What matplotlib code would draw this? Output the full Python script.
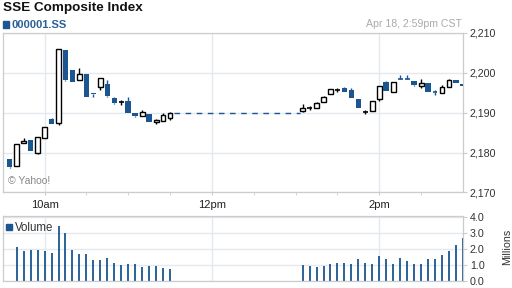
import numpy as np
import matplotlib
matplotlib.use('Agg')
import matplotlib.pyplot as plt
from matplotlib.patches import Rectangle

plt.rcParams['font.family'] = ['Liberation Sans', 'DejaVu Sans']

# minutes after 9:30
am_times = np.arange(5, 121, 5)       # 9:35 .. 11:30
pm_times = np.arange(215, 331, 5)     # 13:05 .. 15:00

am_open = [2178.4, 2176.7, 2182.4, 2183.2, 2180.0, 2183.6, 2188.5, 2187.4, 2205.6, 2200.6, 2198.2, 2199.6,
           2195.0, 2196.5, 2197.3, 2193.7, 2192.6, 2192.85, 2189.9, 2189.25, 2189.7, 2187.7, 2187.9, 2188.75]
am_high = [2178.4, 2182.1, 2183.6, 2183.2, 2183.9, 2186.4, 2188.75, 2206.0, 2205.6, 2200.75, 2201.3, 2199.6,
           2195.0, 2198.7, 2198.1, 2193.95, 2193.3, 2193.85, 2189.9, 2190.6, 2189.7, 2188.4, 2189.9, 2190.3]
am_low = [2176.2, 2176.7, 2182.4, 2180.5, 2179.75, 2183.6, 2187.2, 2186.8, 2197.9, 2197.6, 2198.2, 2194.0,
          2193.95, 2195.6, 2193.9, 2192.2, 2191.9, 2189.9, 2188.9, 2189.25, 2187.6, 2187.2, 2187.9, 2188.2]
am_close = [2176.5, 2182.1, 2182.95, 2180.5, 2183.9, 2186.4, 2187.2, 2206.0, 2198.3, 2197.6, 2199.6, 2194.0,
            2194.7, 2198.7, 2194.1, 2192.4, 2192.65, 2189.9, 2189.25, 2190.1, 2187.6, 2188.2, 2189.5, 2190.0]

pm_open = [2190.4, 2191.2, 2191.1, 2192.6, 2194.7, 2195.6, 2196.1, 2195.7, 2193.45, 2190.1, 2190.4, 2193.5,
           2197.65, 2195.2, 2198.55, 2198.55, 2197.9, 2196.6, 2197.4, 2195.15, 2195.0, 2196.5, 2198.2, 2197.2]
pm_high = [2192.1, 2191.75, 2192.8, 2194.2, 2196.0, 2196.1, 2196.5, 2196.1, 2193.45, 2190.6, 2193.0, 2196.8,
           2197.9, 2197.65, 2199.4, 2199.4, 2197.9, 2198.5, 2197.4, 2195.75, 2197.0, 2198.5, 2198.2, 2197.2]
pm_low = [2190.25, 2190.6, 2191.1, 2192.6, 2194.7, 2195.1, 2195.1, 2193.6, 2191.2, 2189.6, 2190.4, 2192.85,
          2195.4, 2195.2, 2198.5, 2198.5, 2196.7, 2196.2, 2195.1, 2194.4, 2195.0, 2196.5, 2197.5, 2196.8]
pm_close = [2191.1, 2191.25, 2192.45, 2193.9, 2196.0, 2195.65, 2195.1, 2193.6, 2191.2, 2190.15, 2192.95, 2196.8,
            2195.4, 2197.65, 2198.5, 2198.5, 2196.9, 2197.45, 2195.1, 2195.1, 2196.5, 2198.3, 2197.5, 2196.8]

vol_am_times = np.arange(10, 121, 5)  # 9:40 .. 11:30
vol_am = [2.14, 1.90, 1.94, 1.96, 1.84, 1.77, 3.44, 2.97, 1.96, 1.67, 1.67, 1.28,
          1.28, 1.46, 1.15, 0.97, 1.03, 1.03, 0.85, 0.91, 0.91, 0.78, 0.72]
vol_pm = [0.97, 0.91, 0.85, 0.91, 1.03, 1.15, 1.15, 1.03, 1.34, 1.15, 1.03, 1.53,
          1.40, 1.09, 1.46, 1.22, 1.09, 1.09, 1.34, 1.40, 1.59, 1.84, 2.27, 2.70]

BLUE = '#1b5690'
GRID = '#e4e8ef'
SPINE = '#cccccc'

times = np.concatenate([am_times, pm_times])
o = np.array(am_open + pm_open)
h = np.array(am_high + pm_high)
l = np.array(am_low + pm_low)
c = np.array(am_close + pm_close)

fig = plt.figure(figsize=(5.12, 2.88), dpi=100)
ax = fig.add_axes([0.0053, 0.3316, 0.899, 0.554])
axv = fig.add_axes([0.0053, 0.0243, 0.899, 0.2257])

for a in (ax, axv):
    a.set_xlim(0, 330)
    for s in a.spines.values():
        s.set_color(SPINE)
        s.set_linewidth(0.9)
    a.set_axisbelow(True)
    a.set_xticks([30, 150, 270])
    a.set_xticks([60, 90, 120, 180, 210, 240, 300], minor=True)
    a.grid(True, which='major', color=GRID, lw=1.0)
    a.yaxis.tick_right()
    a.tick_params(axis='y', length=3, color=SPINE, labelsize=7.7, labelcolor='#333333', pad=2)
    a.tick_params(axis='x', which='both', length=2.5, color=SPINE)

# candles
wbody = 3.4
for t, op, hi, lo, cl in zip(times, o, h, l, c):
    up = cl >= op
    col = 'black' if up else BLUE
    top, bot = max(op, cl), min(op, cl)
    if hi > top:
        ax.vlines(t, top, hi, color=col, lw=1.0, zorder=2)
    if lo < bot:
        ax.vlines(t, lo, bot, color=col, lw=1.0, zorder=2)
    if top - bot < 0.2:
        ax.hlines(cl, t - wbody / 2, t + wbody / 2, color=col, lw=1.2, zorder=3)
    elif up:
        ax.bar(t, top - bot, bottom=bot, width=wbody, facecolor='white',
               edgecolor='black', lw=1.0, zorder=3)
    else:
        ax.bar(t, top - bot, bottom=bot, width=wbody + 0.6, color=BLUE, lw=0, zorder=3)

# lunch break line
ax.plot([am_times[-1] + 2.5, pm_times[0] - 2], [am_close[-1], am_close[-1]],
        color=BLUE, lw=1.0, ls=(0, (4, 4)))

ax.set_ylim(2170, 2210)
ax.set_yticks([2170, 2180, 2190, 2200, 2210])
ax.set_yticklabels(['{:,}'.format(v) for v in [2170, 2180, 2190, 2200, 2210]])
ax.set_xticklabels(['10am', '12pm', '2pm'])
ax.tick_params(axis='x', labelsize=8, labelcolor='#222222', pad=3)
ax.text(0.012, 0.055, '\u00a9 Yahoo!', transform=ax.transAxes, fontsize=7.5, color='#888888')

# volume
axv.vlines(vol_am_times, 0, vol_am, color=BLUE, lw=1.3)
axv.vlines(pm_times, 0, vol_pm, color=BLUE, lw=1.3)
axv.set_ylim(0, 4.05)
axv.set_yticks([0, 1, 2, 3, 4])
axv.set_yticklabels(['0.0', '1.0', '2.0', '3.0', '4.0'])
axv.set_xticklabels([])
axv.tick_params(axis='x', which='both', length=0)
axv.text(0.026, 0.82, 'Volume', transform=axv.transAxes, fontsize=8.3, color='#333333', va='center')
fig.patches.append(Rectangle((6 / 512, 1 - 230 / 288), 6 / 512, 6 / 288,
                             transform=fig.transFigure, color=BLUE))
fig.text(507 / 512, 1 - 247 / 288, 'Millions', rotation=90, fontsize=7.7,
         color='#333333', ha='center', va='center')

# header
fig.text(3 / 512, 1 - 8 / 288, 'SSE Composite Index', fontsize=9.7, fontweight='bold',
         color='#111111', va='center')
fig.patches.append(Rectangle((3 / 512, 1 - 28 / 288), 6 / 512, 7 / 288,
                             transform=fig.transFigure, color=BLUE))
fig.text(12 / 512, 1 - 24.5 / 288, '000001.SS', fontsize=8, fontweight='bold',
         color='#2a5f95', va='center')
fig.text(462 / 512, 1 - 24 / 288, 'Apr 18, 2:59pm CST', fontsize=7.6, color='#aaaaaa',
         ha='right', va='center')

fig.savefig('out.png', dpi=100)
